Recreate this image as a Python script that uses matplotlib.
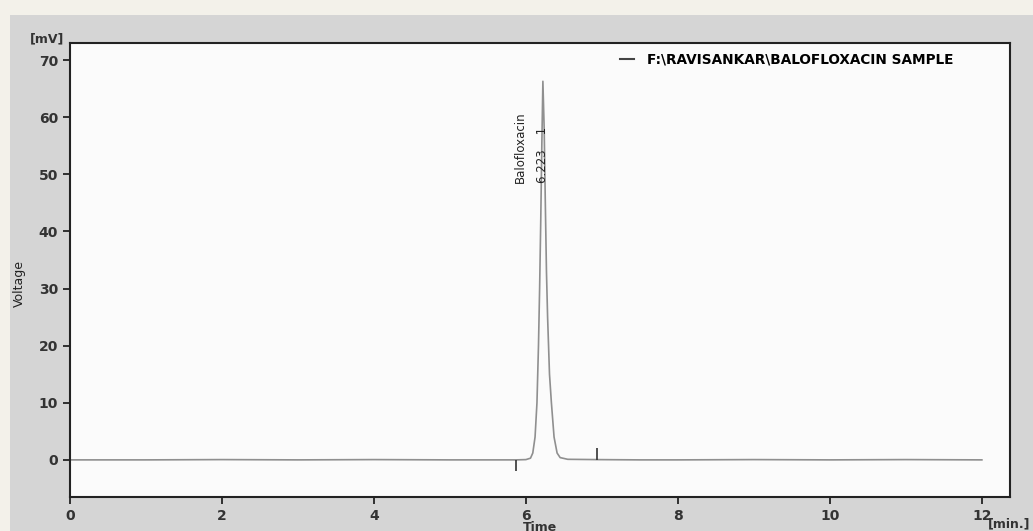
import matplotlib.pyplot as plt
from matplotlib.patches import Rectangle

# chromatogram trace (time in min, signal in mV)
czas = [0.0, 1.0, 2.0, 3.0, 4.0, 5.0, 5.6, 5.87, 6.0, 6.06, 6.09, 6.12, 6.145, 6.165,
        6.18, 6.195, 6.21, 6.223, 6.24, 6.255, 6.27, 6.285, 6.31, 6.335, 6.37,
        6.41, 6.45, 6.55, 6.93, 7.5, 8.0, 9.0, 10.0, 11.0, 12.0]
napiecie = [0.0, 0.0, 0.05, 0.0, 0.05, 0.0, 0.0, 0.0, 0.05, 0.3, 1.2, 4.0, 10.0, 20.0,
            30.0, 42.0, 56.0, 66.3, 58.0, 45.0, 33.0, 25.0, 15.0, 10.0, 4.0,
            1.2, 0.4, 0.1, 0.05, 0.0, 0.0, 0.05, 0.0, 0.05, 0.0]

# integration markers (start / end of the peak)
znaczniki_t = [5.87, 6.93]
znaczniki_od = [0.0, 0.0]
znaczniki_do = [-2.0, 2.0]

pik_t = 6.223
pik_nazwa = "Balofloxacin"
pik_opis = "6.223    1"
xtiki = [0, 2, 4, 6, 8, 10, 12]
ytiki = [0, 10, 20, 30, 40, 50, 60, 70]
legenda = "F:\\RAVISANKAR\\BALOFLOXACIN SAMPLE"

fig = plt.figure(figsize=(10.33, 5.31), dpi=100, facecolor="#d5d5d5")
# light cream strips at top and left edge
fig.patches.append(Rectangle((0, 1 - 15 / 531), 1, 15 / 531, transform=fig.transFigure,
                             facecolor="#f3f1ea", edgecolor="none"))
fig.patches.append(Rectangle((0, 0), 10 / 1033, 1, transform=fig.transFigure,
                             facecolor="#f3f1ea", edgecolor="none"))
ax = fig.add_axes([70 / 1033, 1 - 497 / 531, 940 / 1033, 454 / 531])
ax.set_facecolor("#fbfbfb")

ax.plot(czas, napiecie, color="#8f8f8f", lw=1.2)
ax.vlines(znaczniki_t, znaczniki_od, znaczniki_do, color="#333333", lw=1.2)

ax.text(pik_t - 0.30, 48.5, pik_nazwa, rotation=90, ha="center", va="bottom",
        fontsize=8.5, color="#222222", family="Liberation Sans Narrow")
ax.text(pik_t - 0.01, 48.5, pik_opis, rotation=90, ha="center", va="bottom",
        fontsize=8.5, color="#222222", family="Liberation Sans Narrow")

ax.set_xlim(0, 12.37)
ax.set_ylim(-6.5, 73)
ax.set_xticks(xtiki)
ax.set_yticks(ytiki)
for s in ax.spines.values():
    s.set_linewidth(1.5)
    s.set_color("#222222")
ax.tick_params(direction="out", length=5, width=1.3, colors="#222222", labelsize=10)
for lab in ax.get_xticklabels() + ax.get_yticklabels():
    lab.set_fontweight("bold")
    lab.set_color("#333333")

ax.set_xlabel("Time", fontsize=9, fontweight="bold", color="#333333")
ax.xaxis.set_label_coords((540 - 70) / 940, -24 / 454)
ax.set_ylabel("Voltage", fontsize=9, color="#222222", family="Liberation Sans Narrow")
ax.yaxis.set_label_coords(-44 / 940, 0.47)
fig.text(30 / 1033, 1 - 42 / 531, "[mV]", fontsize=9, fontweight="bold", color="#333333")
fig.text(988 / 1033, 1 - 527 / 531, "[min.]", fontsize=9, fontweight="bold", color="#333333")

ax.plot([], [], color="#444444", lw=1.5, label=legenda)
leg = ax.legend(loc="upper right", frameon=False, handlelength=1.0, handletextpad=1.0,
                prop={"weight": "bold", "size": 9.8}, bbox_to_anchor=(0.953, 1.005))

fig.savefig("out.png", dpi=100, facecolor=fig.get_facecolor())
